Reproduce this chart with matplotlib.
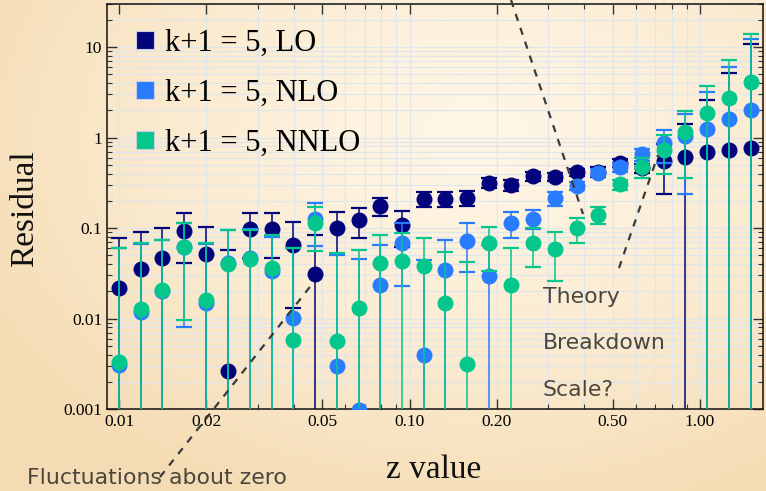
import numpy as np
import matplotlib
matplotlib.use('Agg')
import matplotlib.pyplot as plt
from matplotlib.lines import Line2D
from matplotlib.ticker import FixedLocator, FixedFormatter, LogLocator, NullFormatter

# ---------------- data ----------------
z = [0.0100, 0.0119, 0.0141, 0.0168, 0.0200, 0.0237, 0.0282, 0.0335, 0.0398, 0.0473,
     0.0562, 0.0668, 0.0794, 0.0944, 0.112, 0.133, 0.158, 0.188, 0.224, 0.266,
     0.316, 0.376, 0.447, 0.531, 0.631, 0.750, 0.891, 1.06, 1.26, 1.50]

lo = [0.0217, 0.035, 0.047, 0.093, 0.052, 0.00265, 0.097, 0.097, 0.065, 0.031,
      0.101, 0.1225, 0.177, 0.108, 0.212, 0.21, 0.216, 0.317, 0.299, 0.376,
      0.369, 0.412, 0.42, 0.527, 0.46, 0.55, 0.614, 0.697, 0.733, 0.771]
lo_err = [0.056, 0.055, 0.054, 0.052, 0.052, 0.054, 0.05, 0.05, 0.052, 0.053,
          0.049, 0.045, 0.04, 0.046, 0.04, 0.04, 0.04, 0.043, 0.042, 0.045,
          0.04, 0.04, 0.05, 0.05, 0.05, 0.31, 0.8, 1.9, 4.5, 10.2]

nlo = [0.0031, 0.0119, 0.0203, 0.061, 0.015, 0.0414, 0.047, 0.0336, 0.0102, 0.127,
       0.0030, 0.00097, 0.0236, 0.0678, 0.0040, 0.0344, 0.0724, 0.0297, 0.1145, 0.127,
       0.213, 0.294, 0.41, 0.468, 0.657, 0.863, 1.04, 1.26, 1.61, 2.01]
nlo_err = [0.057, 0.055, 0.054, 0.053, 0.052, 0.055, 0.05, 0.047, 0.05, 0.064,
           0.047, 0.044, 0.041, 0.045, 0.04, 0.04, 0.04, 0.035, 0.036, 0.03,
           0.036, 0.03, 0.035, 0.05, 0.1, 0.34, 0.8, 1.95, 4.45, 10.2]

nnlo = [0.0033, 0.0126, 0.0206, 0.0622, 0.016, 0.040, 0.046, 0.0364, 0.0058, 0.113,
        0.0056, 0.0132, 0.0414, 0.0435, 0.038, 0.015, 0.00314, 0.0688, 0.0235, 0.0688,
        0.0582, 0.099, 0.14, 0.304, 0.476, 0.727, 1.16, 1.85, 2.75, 4.14]
nnlo_err = [0.057, 0.055, 0.054, 0.0526, 0.052, 0.055, 0.05, 0.047, 0.055, 0.057,
            0.047, 0.044, 0.042, 0.045, 0.04, 0.04, 0.039, 0.035, 0.036, 0.032,
            0.032, 0.03, 0.03, 0.04, 0.12, 0.33, 0.8, 1.85, 4.45, 10.0]

labels = ["k+1 = 5, LO", "k+1 = 5, NLO", "k+1 = 5, NNLO"]
xticks = [0.01, 0.02, 0.05, 0.1, 0.2, 0.5, 1.0]
xticklabels = ["0.01", "0.02", "0.05", "0.10", "0.20", "0.50", "1.00"]
yticks = [0.001, 0.01, 0.1, 1, 10]
yticklabels = ["0.001", "0.01", "0.1", "1", "10"]

colors = ['#03037c', '#2a7cff', '#05c78c']

# ---------------- figure ----------------
W, H = 766, 491
fig = plt.figure(figsize=(W / 100, H / 100), dpi=100)

# background gradient
bg = fig.add_axes([0, 0, 1, 1], zorder=-10)
yy, xx = np.mgrid[0:H, 0:W]
cx, cy = 0.62 * W, 0.28 * H
d = np.sqrt(((xx - cx) / W) ** 2 + ((yy - cy) / H) ** 2 * 0.8)
t = np.clip(d / 0.72, 0, 1) ** 1.4
inner = np.array([255, 246, 229]) / 255
outer = np.array([245, 220, 180]) / 255
img = inner + (outer - inner) * t[..., None]
bg.imshow(img, aspect='auto', extent=[0, 1, 0, 1], origin='upper')
bg.axis('off')

ax = fig.add_axes([107 / W, 1 - 409 / H, (763 - 107) / W, (409 - 4) / H])
ax.set_facecolor('none')
ax.set_xscale('log', nonpositive='clip')
ax.set_yscale('log', nonpositive='clip')

series = [(lo, lo_err), (nlo, nlo_err), (nnlo, nnlo_err)]
for i, ((vals, errs), col) in enumerate(zip(series, colors)):
    ln, caps, bars = ax.errorbar(z, vals, yerr=errs, fmt='o', color=col, ms=11.5,
                                 ecolor=col, elinewidth=1.3,
                                 capsize=5.5, capthick=1.6, zorder=3 + i)
    ln.set_markeredgewidth(0)
    for b in bars:
        b.set_alpha(0.85)

ax.set_xlim(0.00909, 1.648)
ax.set_ylim(0.001, 30)

ax.xaxis.set_major_locator(FixedLocator(xticks))
ax.xaxis.set_major_formatter(FixedFormatter(xticklabels))
ax.xaxis.set_minor_locator(LogLocator(base=10, subs=np.arange(1, 10)))
ax.xaxis.set_minor_formatter(NullFormatter())
ax.yaxis.set_major_locator(FixedLocator(yticks))
ax.yaxis.set_major_formatter(FixedFormatter(yticklabels))
ax.yaxis.set_minor_locator(LogLocator(base=10, subs=np.arange(1, 10)))
ax.yaxis.set_minor_formatter(NullFormatter())

ax.grid(True, which='both', color='#e1e5ec', lw=0.9, zorder=0)
ax.set_axisbelow(True)
ax.tick_params(which='both', direction='in', top=True, right=True, color='#333333')
ax.tick_params(which='major', length=7, width=1.0)
ax.tick_params(which='minor', length=3.5, width=0.8)
for lab in ax.get_xticklabels() + ax.get_yticklabels():
    lab.set_fontfamily('Liberation Serif')
    lab.set_fontsize(12.5)
for s in ax.spines.values():
    s.set_linewidth(1.1)
    s.set_color('#111111')

# legend
handles = [Line2D([], [], ls='none', marker='s', ms=13, color=c, mec='#c9cde0', mew=0.8)
           for c in colors]
leg = ax.legend(handles, labels, loc='upper left', bbox_to_anchor=(0.0253, 0.969),
                frameon=False, prop={'family': 'Liberation Serif', 'size': 22},
                labelspacing=0.68, handlelength=0.6, handletextpad=0.35,
                borderaxespad=0.0)

# axis labels
fig.text(25 / W, 1 - 209 / H, 'Residual', rotation=90, ha='center', va='center',
         family='Liberation Serif', fontsize=24, color='#111111')
fig.text(434 / W, 1 - 470 / H, 'z value', ha='center', va='center',
         family='Liberation Serif', fontsize=24, color='#111111')

# annotations
acol = '#4a463e'
fig.text(27 / W, 1 - 478 / H, 'Fluctuations about zero', ha='left', va='center',
         family='DejaVu Sans', fontsize=15.8, color=acol)
for txt, yc in [('Theory', 297), ('Breakdown', 343), ('Scale?', 390)]:
    fig.text(543 / W, 1 - yc / H, txt, ha='left', va='center',
             family='DejaVu Sans', fontsize=15.8, color=acol)

for (x1, y1, x2, y2) in [(511, 0, 583, 214), (619, 268, 658, 155), (160, 477, 313, 283)]:
    fig.add_artist(Line2D([x1 / W, x2 / W], [1 - y1 / H, 1 - y2 / H],
                          transform=fig.transFigure, ls=(0, (3.3, 3.3)), lw=1.6,
                          color='#3a3a3a', zorder=20))

fig.savefig('out.png', dpi=100)
